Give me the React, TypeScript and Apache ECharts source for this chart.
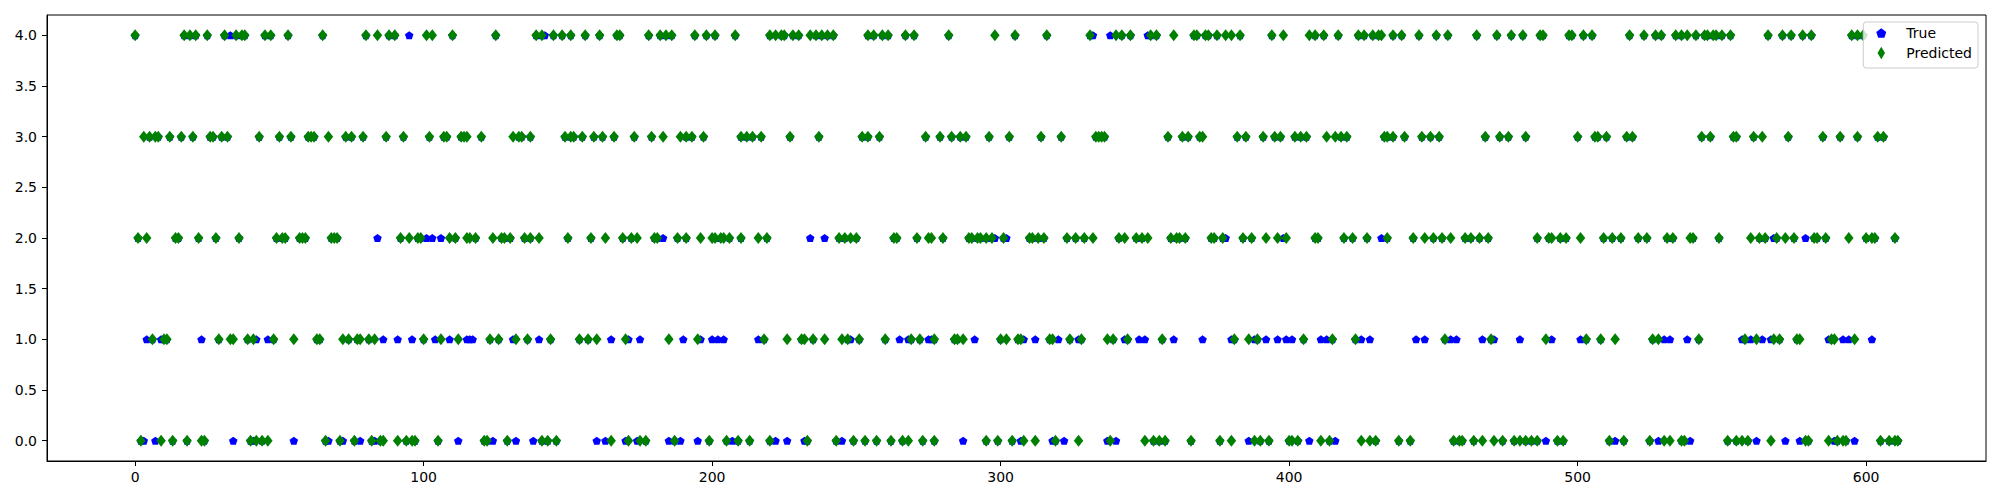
import React, { useEffect, useRef } from "react";
import * as echarts from "echarts";

// tick values
const xTicks = [0, 100, 200, 300, 400, 500, 600];
const yTicks = [0, 0.5, 1, 1.5, 2, 2.5, 3, 3.5, 4];

// sample indices where the predicted class is 0..4 (green diamonds)
const predRow0 = [2, 9, 13, 18, 23, 24, 40, 42, 44, 46, 66, 71, 76, 82, 85, 86, 91, 94, 96, 97, 105, 121, 122, 129, 141, 143, 146, 165, 171, 175, 177, 187, 199, 205, 209, 213, 220, 233, 243, 249, 253, 257, 262, 266, 268, 273, 277, 295, 299, 304, 308, 312, 319, 327, 338, 350, 353, 355, 357, 366, 376, 380, 388, 390, 393, 400, 401, 403, 411, 414, 425, 428, 430, 438, 442, 457, 459, 460, 464, 467, 471, 474, 478, 480, 482, 484, 486, 493, 495, 511, 516, 525, 530, 532, 536, 537, 552, 555, 557, 559, 567, 579, 580, 587, 590, 592, 593, 605, 608, 610, 611];
const predRow1 = [6, 10, 11, 29, 33, 34, 39, 41, 48, 55, 63, 64, 72, 74, 77, 78, 81, 83, 100, 106, 112, 123, 126, 132, 136, 144, 154, 157, 160, 170, 185, 195, 218, 226, 231, 232, 235, 239, 245, 247, 251, 260, 269, 272, 277, 284, 285, 287, 300, 302, 306, 307, 317, 318, 324, 328, 337, 339, 344, 356, 381, 386, 389, 405, 415, 423, 454, 470, 489, 503, 508, 513, 526, 528, 542, 558, 562, 568, 570, 576, 577, 588, 589, 596];
const predRow2 = [1, 4, 14, 15, 22, 28, 36, 49, 51, 52, 57, 58, 59, 68, 69, 70, 92, 95, 98, 99, 109, 111, 115, 116, 118, 124, 127, 128, 130, 135, 137, 140, 150, 158, 163, 169, 172, 174, 180, 181, 188, 191, 196, 200, 201, 203, 204, 206, 210, 216, 219, 244, 246, 248, 250, 263, 264, 271, 275, 276, 280, 289, 290, 292, 293, 295, 297, 301, 310, 311, 313, 315, 323, 326, 329, 332, 341, 343, 347, 349, 351, 359, 361, 362, 364, 373, 374, 377, 384, 387, 392, 396, 399, 409, 410, 419, 422, 427, 434, 443, 447, 450, 453, 456, 461, 463, 466, 469, 486, 490, 491, 494, 496, 501, 509, 512, 515, 521, 524, 531, 533, 539, 540, 549, 560, 563, 565, 569, 572, 575, 582, 583, 586, 594, 600, 602, 603, 610];
const predRow3 = [3, 5, 7, 8, 12, 16, 20, 26, 27, 30, 32, 43, 50, 54, 60, 61, 62, 67, 73, 75, 79, 87, 93, 102, 107, 108, 113, 114, 115, 120, 131, 133, 134, 137, 149, 151, 152, 155, 159, 162, 166, 173, 179, 183, 189, 191, 193, 197, 210, 212, 214, 217, 227, 237, 252, 254, 258, 274, 279, 283, 286, 288, 296, 303, 314, 321, 333, 334, 335, 336, 358, 363, 365, 369, 370, 382, 385, 391, 395, 397, 402, 404, 406, 413, 416, 418, 420, 433, 434, 436, 440, 446, 449, 452, 468, 473, 476, 482, 500, 506, 507, 510, 517, 519, 543, 546, 554, 555, 561, 564, 573, 585, 591, 597, 604, 606];
const predRow4 = [0, 17, 19, 21, 25, 31, 35, 37, 38, 45, 47, 53, 65, 80, 84, 88, 90, 101, 103, 110, 125, 139, 141, 145, 148, 151, 156, 161, 167, 168, 178, 182, 184, 186, 194, 198, 201, 208, 220, 222, 224, 225, 228, 230, 234, 236, 238, 240, 242, 254, 256, 259, 261, 267, 270, 282, 298, 305, 316, 331, 340, 342, 345, 352, 354, 360, 367, 368, 371, 372, 375, 378, 380, 383, 394, 398, 407, 409, 412, 417, 424, 426, 429, 431, 432, 436, 439, 445, 451, 455, 465, 472, 477, 481, 487, 488, 497, 498, 502, 505, 518, 523, 527, 529, 534, 536, 538, 541, 544, 545, 547, 548, 550, 553, 566, 571, 574, 578, 581, 595, 597, 599];

// sample indices whose true class differs from the prediction (visible blue pentagons)
const trueMiss0 = [3, 7, 34, 41, 55, 67, 72, 78, 83, 112, 124, 132, 138, 160, 163, 170, 174, 185, 189, 195, 207, 222, 226, 232, 245, 287, 307, 318, 322, 337, 340, 386, 407, 416, 489, 513, 528, 539, 562, 572, 577, 589, 596];
const trueMiss1 = [4, 9, 23, 42, 46, 86, 91, 96, 104, 109, 115, 116, 117, 131, 140, 165, 171, 175, 190, 196, 200, 202, 204, 216, 248, 265, 268, 275, 276, 291, 308, 312, 320, 327, 343, 348, 350, 360, 370, 380, 388, 392, 396, 399, 401, 411, 413, 425, 428, 444, 447, 456, 458, 467, 471, 480, 491, 501, 530, 532, 538, 557, 560, 564, 567, 587, 592, 594, 602];
const trueMiss2 = [84, 101, 103, 106, 183, 234, 239, 298, 302, 378, 398, 432, 568, 579];
const trueMiss3: number[] = [];
const trueMiss4 = [33, 95, 142, 332, 338, 351];

const predRows = [predRow0, predRow1, predRow2, predRow3, predRow4];
const trueMissRows = [trueMiss0, trueMiss1, trueMiss2, trueMiss3, trueMiss4];

const PENTAGON = "path://M0,-1L0.951,-0.309L0.588,0.809L-0.588,0.809L-0.951,-0.309Z";
const THIN_DIAMOND = "path://M0,-1L0.6,0L0,1L-0.6,0Z";
const FONT = "DejaVu Sans";

export default function App() {
  const ref = useRef<HTMLDivElement>(null);

  useEffect(() => {
    if (!ref.current) return;
    const chart = echarts.init(ref.current, undefined, { renderer: "svg" });

    const missSet = new Set<number>();
    trueMissRows.forEach((xs) => xs.forEach((x) => missSet.add(x)));

    const predictedData = predRows.flatMap((xs, cls) => xs.map((x) => [x, cls]));
    const trueData = [
      ...predRows.flatMap((xs, cls) => xs.filter((x) => !missSet.has(x)).map((x) => [x, cls])),
      ...trueMissRows.flatMap((xs, cls) => xs.map((x) => [x, cls])),
    ];

    chart.setOption({
      animation: false,
      backgroundColor: "#ffffff",
      grid: {
        left: 47,
        right: 14,
        top: 15,
        bottom: 39,
        show: true,
        borderColor: "#000000",
        borderWidth: 1,
        backgroundColor: "transparent",
      },
      legend: {
        orient: "vertical",
        right: 22,
        top: 22,
        padding: [3, 6, 7, 13],
        itemGap: 4,
        itemWidth: 10,
        itemHeight: 12.5,
        backgroundColor: "rgba(255,255,255,0.8)",
        borderColor: "#cccccc",
        borderWidth: 1,
        borderRadius: 3,
        textStyle: {
          fontFamily: FONT,
          fontSize: 14,
          color: "#000000",
          lineHeight: 16,
          padding: [0, 0, 0, 15],
        },
        data: [
          { name: "True", icon: PENTAGON },
          { name: "Predicted", icon: THIN_DIAMOND },
        ],
      },
      xAxis: {
        type: "value",
        min: -30.55,
        max: 641.55,
        splitLine: { show: false },
        axisLine: { show: true, onZero: false, lineStyle: { color: "#000000", width: 1 } },
        axisTick: {
          show: true,
          length: 5,
          inside: false,
          customValues: xTicks,
          lineStyle: { color: "#000000", width: 1 },
        },
        axisLabel: {
          customValues: xTicks,
          margin: 9,
          fontFamily: FONT,
          fontSize: 14,
          color: "#000000",
          formatter: (v: number) => String(v),
        },
      },
      yAxis: {
        type: "value",
        min: -0.2,
        max: 4.2,
        splitLine: { show: false },
        axisLine: { show: true, onZero: false, lineStyle: { color: "#000000", width: 1 } },
        axisTick: {
          show: true,
          length: 5,
          inside: false,
          customValues: yTicks,
          lineStyle: { color: "#000000", width: 1 },
        },
        axisLabel: {
          customValues: yTicks,
          margin: 10,
          fontFamily: FONT,
          fontSize: 14,
          color: "#000000",
          formatter: (v: number) => v.toFixed(1),
        },
      },
      series: [
        {
          name: "True",
          type: "scatter",
          symbol: PENTAGON,
          symbolSize: [8.5, 8],
          itemStyle: { color: "#0000ff", opacity: 1 },
          data: trueData,
          z: 2,
        },
        {
          name: "Predicted",
          type: "scatter",
          symbol: "diamond",
          symbolSize: [9.5, 12],
          itemStyle: { color: "#008000", opacity: 1 },
          data: predictedData,
          z: 3,
        },
      ],
    });

    return () => chart.dispose();
  }, []);

  return (
    <div
      ref={ref}
      style={{ position: "absolute", left: 0, top: 0, width: 2000, height: 500 }}
    />
  );
}
